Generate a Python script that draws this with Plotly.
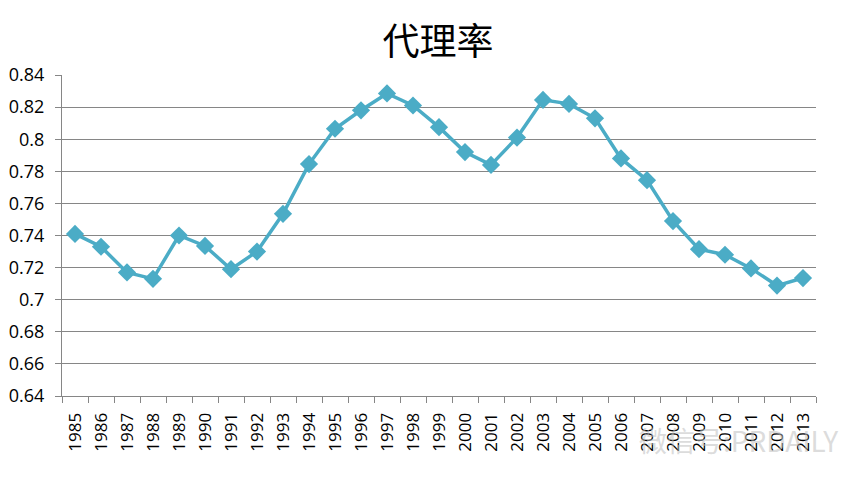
import plotly.graph_objects as go

years = [str(y) for y in range(1985, 2014)]
values = [0.741, 0.733, 0.717, 0.713, 0.740, 0.7335, 0.719, 0.730, 0.7535, 0.7845,
          0.8065, 0.818, 0.8285, 0.821, 0.8075, 0.792, 0.784, 0.801, 0.8245, 0.822,
          0.813, 0.788, 0.7745, 0.749, 0.7315, 0.728, 0.7195, 0.7088, 0.7135]
y_tickvals = [0.64, 0.66, 0.68, 0.70, 0.72, 0.74, 0.76, 0.78, 0.80, 0.82, 0.84]
y_ticktext = ["0.64", "0.66", "0.68", "0.7", "0.72", "0.74", "0.76", "0.78", "0.8", "0.82", "0.84"]
title_text = "代理率"
watermark = "微信号:PRDAILY"

fig = go.Figure()
fig.add_trace(go.Scatter(
    x=years, y=values, mode="lines+markers",
    line=dict(color="#4BACC6", width=3.5),
    marker=dict(symbol="diamond", size=14, color="#4BACC6"),
    cliponaxis=False,
))

fig.update_layout(
    width=860, height=481,
    margin=dict(l=54, r=52, t=67, b=93, autoexpand=False),
    paper_bgcolor="white", plot_bgcolor="white",
    showlegend=False,
    title=dict(text=title_text, x=0.5, xanchor="center", y=0.929, yanchor="middle",
               font=dict(family="Noto Sans CJK SC", size=37, color="black")),
    font=dict(family="Open Sans", color="black"),
)
fig.update_xaxes(
    type="category", range=[-0.5, 28.5], tickangle=-90, tickson="boundaries", ticks="outside",
    ticklen=6, tickcolor="#868686", showline=True, linecolor="#868686", linewidth=1,
    showgrid=False, automargin=False, ticklabelstandoff=9,
    tickfont=dict(size=17, family="Open Sans", color="black"),
)
fig.update_yaxes(
    range=[0.64, 0.84], tickvals=y_tickvals, ticktext=y_ticktext,
    ticks="outside", ticklen=6, tickcolor="#868686",
    showline=True, linecolor="#868686", linewidth=1, automargin=False,
    showgrid=True, gridcolor="#868686", gridwidth=1, zeroline=False,
    ticklabelstandoff=7,
    tickfont=dict(size=18, family="Open Sans", color="black"),
)
fig.add_annotation(text=watermark, x=1.032, y=-0.137, xref="paper", yref="paper",
                   xanchor="right", yanchor="middle", showarrow=False,
                   font=dict(size=28, color="rgba(190,190,190,0.55)", family="Noto Sans CJK SC"))

fig.write_html("out.html")
